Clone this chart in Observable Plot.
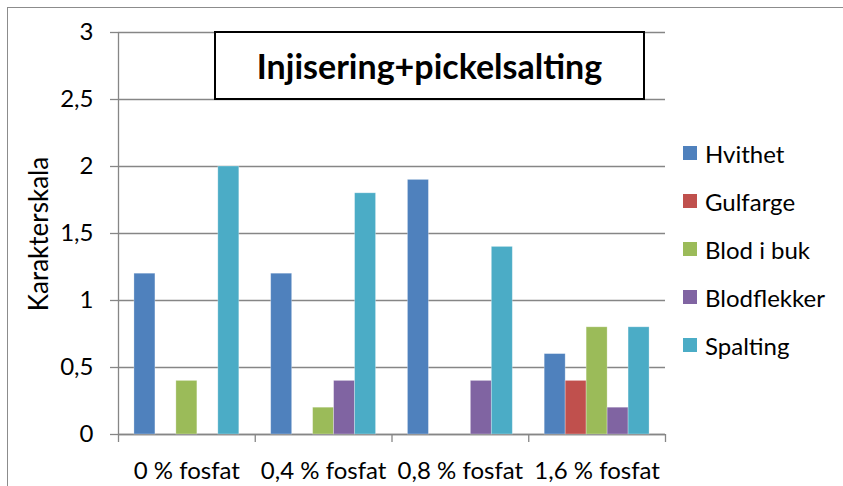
<!DOCTYPE html>
<html>
<head>
<meta charset="utf-8">
<script src="https://cdn.jsdelivr.net/npm/d3@7"></script>
<script src="https://cdn.jsdelivr.net/npm/@observablehq/plot@0.6"></script>
<style>
  html, body { margin: 0; padding: 0; background: white; }
  #wrap { position: relative; width: 843px; height: 486px; overflow: hidden; font-family: Lato, sans-serif; color: black; }
  #frame { position: absolute; left: 7px; top: 7px; width: 900px; height: 600px; border-left: 1.5px solid #8c8c8c; border-top: 1.5px solid #8c8c8c; }
  #title { position: absolute; left: 214px; top: 31px; width: 427px; height: 65px; border: 2px solid black; background: white;
           display: flex; align-items: center; justify-content: center; font-weight: bold; font-size: 34px; }
  #ylabel { position: absolute; left: 38px; top: 234px; transform: translate(-50%, -50%) rotate(-90deg); font-size: 26px; white-space: nowrap; line-height: 1; }
  #legend { position: absolute; left: 683px; top: 129px; }
  .item { display: flex; align-items: center; height: 48px; font-size: 24px; }
  .sw { width: 14px; height: 14px; margin-right: 8px; }
  svg { position: absolute; left: 0; top: 0; }
</style>
</head>
<body>
<div id="wrap">
  <div id="frame"></div>
</div>
<script>
const groups = ["0 % fosfat", "0,4 % fosfat", "0,8 % fosfat", "1,6 % fosfat"];
const seriesNames = ["Hvithet", "Gulfarge", "Blod i buk", "Blodflekker", "Spalting"];
const hvithet = [1.2, 1.2, 1.9, 0.6];
const gulfarge = [0, 0, 0, 0.4];
const blodIBuk = [0.4, 0.2, 0, 0.8];
const blodflekker = [0, 0.4, 0.4, 0.2];
const spalting = [2.0, 1.8, 1.4, 0.8];
const seriesColors = ["#4F81BD", "#C0504D", "#9BBB59", "#8064A2", "#4BACC6"];
const yTicks = [0, 0.5, 1, 1.5, 2, 2.5, 3];
const titleText = "Injisering+pickelsalting";
const yLabel = "Karakterskala";

const seriesValues = [hvithet, gulfarge, blodIBuk, blodflekker, spalting];
const outerPad = 0.76; // Excel-like gap on both sides of each cluster
const slots = seriesNames.length + 2 * outerPad;
const rows = [];
groups.forEach((g, gi) => {
  seriesNames.forEach((s, si) => {
    rows.push({
      group: g,
      series: s,
      value: seriesValues[si][gi],
      x1: gi + (outerPad + si) / slots,
      x2: gi + (outerPad + si + 1) / slots
    });
  });
});
const boundaries = d3.range(groups.length + 1);
const centers = groups.map((g, i) => i + 0.5);
const fmt = d => String(d).replace(".", ",");
const gray = "#868686";

const chart = Plot.plot({
  width: 843,
  height: 486,
  marginLeft: 118,
  marginRight: 178,
  marginTop: 32,
  marginBottom: 52,
  style: { fontFamily: "Lato, sans-serif", fontSize: "24px", color: "black", background: "transparent", overflow: "visible" },
  x: { type: "linear", domain: [0, groups.length], label: null },
  y: { domain: [0, 3], label: null },
  color: { domain: seriesNames, range: seriesColors },
  marks: [
    Plot.gridY(yTicks, { stroke: gray, strokeOpacity: 1, strokeWidth: 1.3 }),
    Plot.axisY({ ticks: yTicks, tickSize: 8, tickPadding: 17, tickFormat: fmt, stroke: gray, strokeWidth: 1.3, fill: "black", label: null }),
    Plot.axisX({ ticks: boundaries, tickSize: 8, tickFormat: () => "", stroke: gray, strokeWidth: 1.3, label: null }),
    Plot.axisX({ ticks: centers, tickSize: 0, tickPadding: 27, tickFormat: (d) => groups[Math.floor(d)], fill: "black", label: null }),
    Plot.ruleX([0], { stroke: gray, strokeWidth: 1.3 }),
    Plot.ruleY([0], { stroke: gray, strokeWidth: 1.3 }),
    Plot.rectY(rows, { x1: "x1", x2: "x2", y: "value", fill: "series", stroke: "white", strokeOpacity: 0.35, strokeWidth: 0.8 })
  ]
});

const wrap = document.getElementById("wrap");
wrap.appendChild(chart);

const title = document.createElement("div");
title.id = "title";
title.textContent = titleText;
wrap.appendChild(title);

const yl = document.createElement("div");
yl.id = "ylabel";
yl.textContent = yLabel;
wrap.appendChild(yl);

const legend = document.createElement("div");
legend.id = "legend";
seriesNames.forEach((s, i) => {
  const item = document.createElement("div");
  item.className = "item";
  const sw = document.createElement("div");
  sw.className = "sw";
  sw.style.background = chart.scale("color").apply(s);
  const t = document.createElement("span");
  t.textContent = s;
  item.appendChild(sw);
  item.appendChild(t);
  legend.appendChild(item);
});
wrap.appendChild(legend);
</script>
</body>
</html>
